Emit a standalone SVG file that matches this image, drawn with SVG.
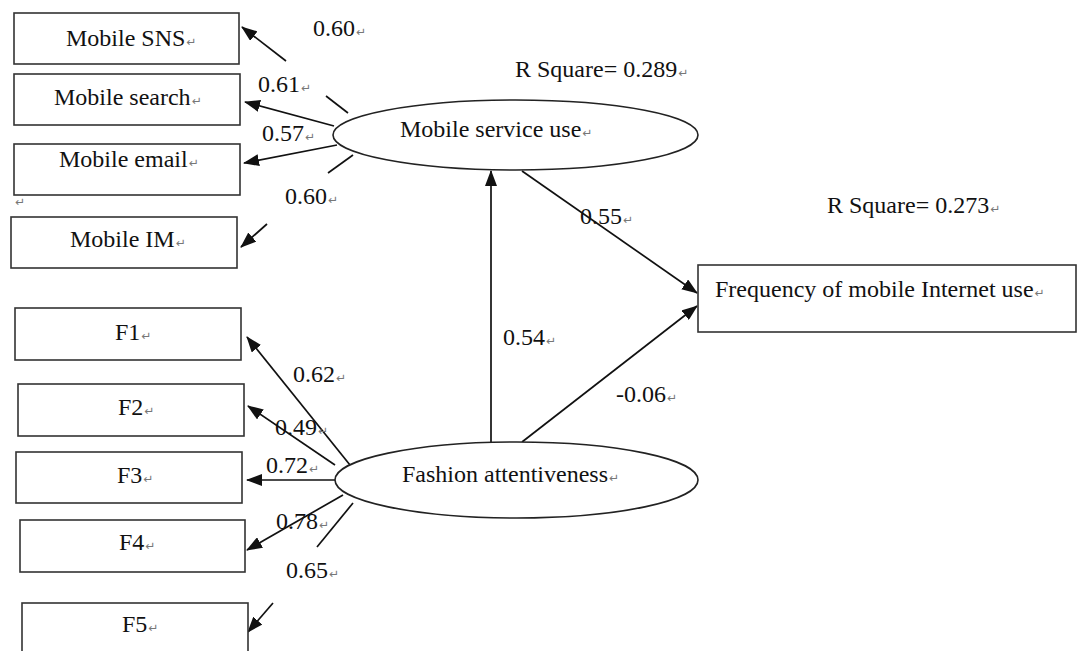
<svg xmlns="http://www.w3.org/2000/svg" width="1080" height="651" viewBox="0 0 1080 651">
<defs>
<style>
.box{fill:#fff;stroke:#333;stroke-width:1.6}
.ell{fill:#fff;stroke:#222;stroke-width:1.6}
.t{font-family:"Liberation Serif","Times New Roman",serif;font-size:24px;fill:#111}
.pm{font-family:"DejaVu Sans",sans-serif;font-size:12px;fill:#777}
.ln{stroke:#111;stroke-width:1.7;fill:none}
.ar{marker-end:url(#ah)}
</style>
<marker id="ah" markerUnits="userSpaceOnUse" markerWidth="16" markerHeight="12" refX="15" refY="6" orient="auto" viewBox="0 0 16 12">
<path d="M0,0 L16,6 L0,12 z" fill="#111"/>
</marker>
</defs>
<rect width="1080" height="651" fill="#fff"/>

<g id="connectors">
<line class="ln ar" x1="286" y1="61" x2="242" y2="27"/>
<line class="ln" x1="326" y1="96" x2="348" y2="113"/>
<line class="ln ar" x1="334" y1="126" x2="245" y2="102"/>
<line class="ln ar" x1="337" y1="145" x2="244" y2="163"/>
<line class="ln" x1="353" y1="155" x2="328" y2="173"/>
<line class="ln ar" x1="267" y1="224" x2="241" y2="247"/>
<line class="ln ar" x1="491" y1="442" x2="491" y2="171"/>
<line class="ln ar" x1="522" y1="171" x2="697" y2="293"/>
<line class="ln ar" x1="522" y1="442" x2="697" y2="306"/>
<line class="ln ar" x1="350" y1="465" x2="247" y2="337"/>
<line class="ln ar" x1="335" y1="465" x2="248" y2="406"/>
<line class="ln ar" x1="335" y1="480" x2="247" y2="480"/>
<line class="ln ar" x1="343" y1="495" x2="247" y2="550"/>
<line class="ln" x1="353" y1="503" x2="317" y2="547"/>
<line class="ln ar" x1="273" y1="603" x2="248" y2="632"/>
</g>

<g id="n-sns"><rect class="box" x="14" y="13" width="225" height="51"/><text class="t" x="66" y="46">Mobile SNS<tspan class="pm" dx="1">↵</tspan></text></g>
<g id="n-search"><rect class="box" x="14" y="74" width="226" height="51"/><text class="t" x="54" y="105">Mobile search<tspan class="pm" dx="1">↵</tspan></text></g>
<g id="n-email"><rect class="box" x="14" y="144" width="226" height="51"/><text class="t" x="59" y="167">Mobile email<tspan class="pm" dx="1">↵</tspan></text></g>
<text class="pm" x="15" y="206">↵</text>
<g id="n-im"><rect class="box" x="11" y="217" width="226" height="51"/><text class="t" x="70" y="247">Mobile IM<tspan class="pm" dx="1">↵</tspan></text></g>

<g id="n-f1"><rect class="box" x="15" y="308" width="226" height="52"/><text class="t" x="115" y="340">F1<tspan class="pm" dx="1">↵</tspan></text></g>
<g id="n-f2"><rect class="box" x="18" y="384" width="226" height="52"/><text class="t" x="118" y="415">F2<tspan class="pm" dx="1">↵</tspan></text></g>
<g id="n-f3"><rect class="box" x="16" y="452" width="226" height="51"/><text class="t" x="117" y="483">F3<tspan class="pm" dx="1">↵</tspan></text></g>
<g id="n-f4"><rect class="box" x="20" y="520" width="225" height="52"/><text class="t" x="119" y="550">F4<tspan class="pm" dx="1">↵</tspan></text></g>
<g id="n-f5"><rect class="box" x="22" y="603" width="226" height="60"/><text class="t" x="122" y="632">F5<tspan class="pm" dx="1">↵</tspan></text></g>

<g id="n-msu"><ellipse class="ell" cx="515.5" cy="135" rx="182.5" ry="35"/><text class="t" x="400" y="137">Mobile service use<tspan class="pm" dx="1">↵</tspan></text></g>
<g id="n-fa"><ellipse class="ell" cx="516.5" cy="480" rx="181.5" ry="38"/><text class="t" x="402" y="482">Fashion attentiveness<tspan class="pm" dx="1">↵</tspan></text></g>
<g id="n-freq"><rect class="box" x="698" y="265" width="378" height="67"/><text class="t" x="715" y="297">Frequency of mobile Internet use<tspan class="pm" dx="1">↵</tspan></text></g>

<g id="labels">
<text class="t" x="313" y="36">0.60<tspan class="pm" dx="1">↵</tspan></text>
<text class="t" x="258" y="92">0.61<tspan class="pm" dx="1">↵</tspan></text>
<text class="t" x="262" y="141">0.57<tspan class="pm" dx="1">↵</tspan></text>
<text class="t" x="285" y="204">0.60<tspan class="pm" dx="1">↵</tspan></text>
<text class="t" x="515" y="77">R Square= 0.289<tspan class="pm" dx="1">↵</tspan></text>
<text class="t" x="827" y="213">R Square= 0.273<tspan class="pm" dx="1">↵</tspan></text>
<text class="t" x="580" y="224">0.55<tspan class="pm" dx="1">↵</tspan></text>
<text class="t" x="503" y="345">0.54<tspan class="pm" dx="1">↵</tspan></text>
<text class="t" x="616" y="402">-0.06<tspan class="pm" dx="1">↵</tspan></text>
<text class="t" x="293" y="382">0.62<tspan class="pm" dx="1">↵</tspan></text>
<text class="t" x="275" y="435">0.49<tspan class="pm" dx="1">↵</tspan></text>
<text class="t" x="266" y="473">0.72<tspan class="pm" dx="1">↵</tspan></text>
<text class="t" x="276" y="529">0.78<tspan class="pm" dx="1">↵</tspan></text>
<text class="t" x="286" y="578">0.65<tspan class="pm" dx="1">↵</tspan></text>
</g>
</svg>
